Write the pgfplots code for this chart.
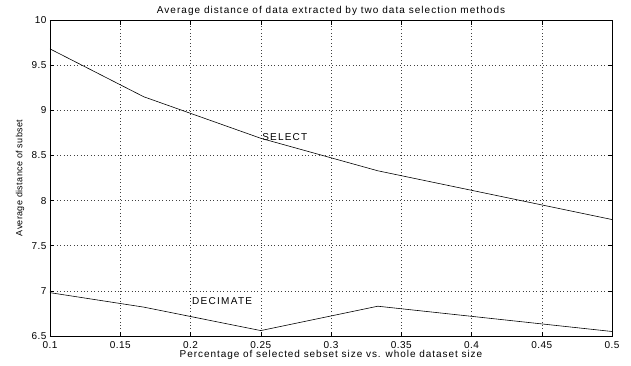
\documentclass[border=0pt]{standalone}
\usepackage{pgfplots}
\pgfplotsset{compat=1.18}
\usepackage{fontspec}
\setmainfont{Liberation Sans}
\newcommand{\lbl}[1]{\fontsize{10}{11}\selectfont\addfontfeature{LetterSpace=#1}}
\begin{document}
\begin{tikzpicture}
\path[use as bounding box] (-50pt,-29pt) rectangle (581pt,336pt);
\begin{axis}[
  at={(0pt,0pt)}, anchor=south west,
  scale only axis, width=562pt, height=316pt,
  xmin=0.1, xmax=0.5, ymin=6.5, ymax=10,
  xtick={0.1,0.15,...,0.5}, ytick={6.5,7,...,10},
  xticklabels={0.1,0.15,0.2,0.25,0.3,0.35,0.4,0.45,0.5},
  yticklabels={6.5,7,7.5,8,8.5,9,9.5,10},
  tick align=inside, major tick length=4.5pt,
  xtick pos=both, ytick pos=both,
  grid=major,
  major grid style={black!75, dash pattern=on 0.8pt off 2.6pt, line width=0.5pt},
  axis line style={line width=0.8pt},
  tick style={black, line width=0.5pt},
  ticklabel style={font=\lbl{5}},
  xticklabel style={anchor=center, yshift=-9pt},
  title={Average distance of data extracted by two data selection methods},
  title style={font=\lbl{10.5}, yshift=-5pt},
  xlabel={Percentage of selected sebset size vs. whole dataset size},
  xlabel style={font=\lbl{9.5}, at={(axis description cs:0.5,0)}, anchor=center, yshift=-19pt},
  ylabel={Average distance of subset},
  ylabel style={font=\fontsize{9}{10}\selectfont\addfontfeature{LetterSpace=4}, at={(axis description cs:-0.0534,0.5)}, anchor=center},
]
\addplot[black, line width=0.6pt] coordinates {
  (0.1,9.68) (0.1667,9.15) (0.25,8.69) (0.3333,8.33) (0.5,7.79)
};
\addplot[black, line width=0.6pt] coordinates {
  (0.1,6.98) (0.1667,6.82) (0.25,6.56) (0.3333,6.83) (0.5,6.55)
};
\node[anchor=west, inner sep=0pt, font=\lbl{12}] at (axis cs:0.251,8.70) {SELECT};
\node[anchor=west, inner sep=0pt, font=\lbl{13}] at (axis cs:0.201,6.89) {DECIMATE};
\end{axis}
\end{tikzpicture}
\end{document}
